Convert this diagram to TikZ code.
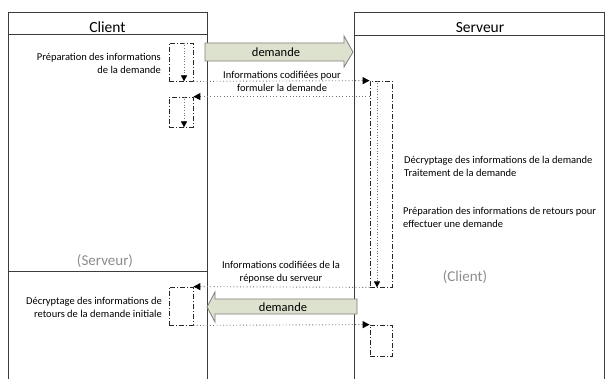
\documentclass[tikz,border=0pt]{standalone}
\usepackage{fontspec}
\setmainfont{Carlito}
\usetikzlibrary{arrows.meta,calc}
\definecolor{frame}{RGB}{60,60,60}
\definecolor{dotgrey}{RGB}{115,115,115}
\definecolor{msgfill}{RGB}{221,226,206}
\definecolor{msgline}{RGB}{125,125,125}
\definecolor{greytxt}{RGB}{140,140,140}

\begin{document}
\begin{tikzpicture}[x=1pt,y=-1pt,
  lane/.style={draw=frame, line width=1pt},
  act/.style={draw=black!85, line width=0.8pt,
    dash pattern=on 5pt off 2pt on 1pt off 2pt, inner sep=0pt},
  msg/.style={draw=dotgrey, line width=0.9pt, dash pattern=on 0.9pt off 2.4pt,
    -{Triangle[length=7pt,width=7pt,color=black]}},
  inner/.style={draw=dotgrey, line width=0.7pt, dash pattern=on 0.7pt off 2pt,
    -{Triangle[length=6pt,width=6pt,color=black]}},
  small/.style={font=\fontsize{10.5}{13}\selectfont, inner sep=0pt},
  head/.style={font=\fontsize{15.5}{18}\selectfont, inner sep=0pt, anchor=base},
  faded/.style={font=\fontsize{15}{18}\selectfont, text=greytxt, inner sep=0pt},
  bigarrow/.style={draw=msgline, fill=msgfill, line width=0.8pt},
  arrowtext/.style={font=\fontsize{12.5}{14}\selectfont, inner sep=0pt}
]
\useasboundingbox (0,0) rectangle (607,379);

% swim lanes
\draw[lane] (8,379) -- (8,13) -- (207,13) -- (207,379);
\draw[lane] (8,35) -- (207,35);
\draw[lane] (8,271) -- (207,271);
\draw[lane] (354,379) -- (354,13) -- (604,13) -- (604,379);
\draw[lane] (354,36) -- (604,36);

\node[head] (hclient) at (107.5,33) {Client};
\node[head] (hserveur) at (480,33) {Serveur};
\node[faded] (rserveur) at (105,261) {(Serveur)};
\node[faded] (rclient) at (465,277) {(Client)};

% activation boxes
\node[act, minimum width=24pt, minimum height=38pt] (ca1) at (181,62) {};
\node[act, minimum width=24pt, minimum height=30pt] (ca2) at (181,112) {};
\node[act, minimum width=24pt, minimum height=38pt] (ca3) at (181,306) {};
\node[act, minimum width=22pt, minimum height=206pt] (sa1) at (381,184) {};
\node[act, minimum width=22pt, minimum height=31pt] (sa2) at (381,340.5) {};

% flow inside the boxes
\draw[inner] ($(ca1.north)+(3,0)$) -- ($(ca1.south)+(3,0)$);
\draw[inner] ($(ca2.north)+(3,0)$) -- ($(ca2.south)+(3,0)$);
\draw[inner] ($(sa1.north)+(-4,0)$) -- ($(sa1.south)+(-4,0)$);

% messages
\draw[msg] (ca1.south east) -- (sa1.north west);
\draw[msg] (sa1.west |- ca2.north east) -- (ca2.north east);
\draw[msg] (sa1.south west) -- (ca3.north east);
\draw[msg] (ca3.south east) -- (sa2.north west);

% block arrows
\draw[bigarrow] (205,43) -- (344,43) -- (344,36) -- (353,52) -- (344,67) -- (344,61) -- (205,61) -- cycle;
\node[arrowtext] (dem1) at (276,52) {demande};
\draw[bigarrow] (357,299) -- (215,299) -- (215,292) -- (207,307) -- (215,322) -- (215,314) -- (357,314) -- cycle;
\node[arrowtext] (dem2) at (283,307) {demande};

% labels
\node[small, align=right, anchor=east] (lprep) at (161,63.5)
  {Préparation des informations\\de la demande};
\node[small, align=center] (lcode1) at (282,81.5)
  {Informations codifiées pour\\formuler la demande};
\node[small, align=left, anchor=west] (ldecr) at (404,166.5)
  {Décryptage des informations de la demande\\Traitement de la demande};
\node[small, align=left, anchor=west] (lret) at (403,217.5)
  {Préparation des informations de retours pour\\effectuer une demande};
\node[small, align=center] (lcode2) at (281,272)
  {Informations codifiées de la\\réponse du serveur};
\node[small, align=right, anchor=east] (ldecr2) at (162,307)
  {Décryptage des informations de\\retours de la demande initiale};
\end{tikzpicture}
\end{document}
